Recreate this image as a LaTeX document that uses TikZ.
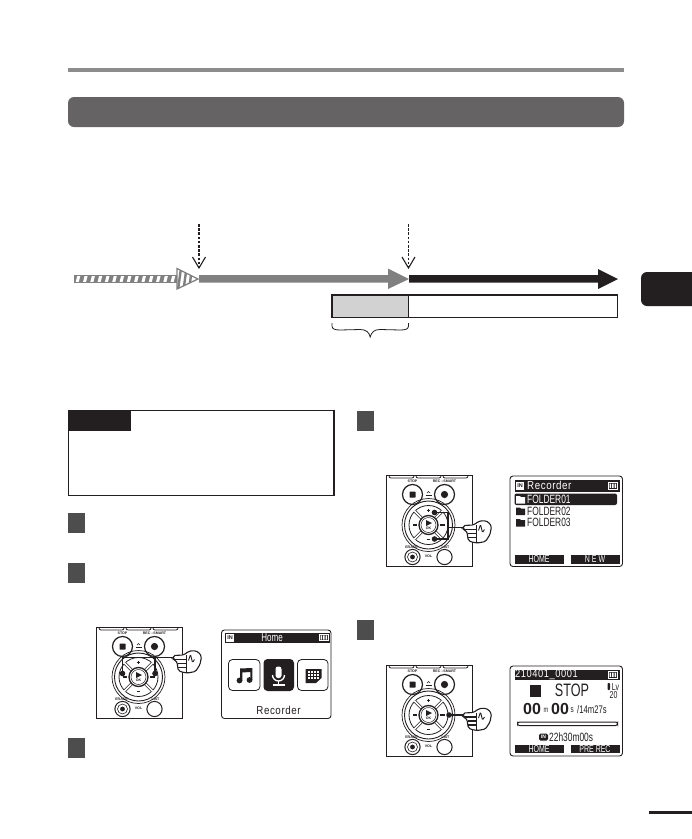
\documentclass[tikz,border=0pt]{standalone}
\usepackage{fontspec}
\setmainfont{Liberation Sans}
\newfontfamily\lcdfont[FakeStretch=0.7]{Liberation Sans}
\newfontfamily\lcdwide[FakeStretch=0.85,LetterSpace=5]{Liberation Sans}
\definecolor{inkblack}{HTML}{231F20}
\definecolor{headgray}{HTML}{656363}
\definecolor{rulegray}{HTML}{8C8C8C}
\definecolor{stepgray}{HTML}{4D4D4D}
\definecolor{flowgray}{HTML}{808080}
\definecolor{lightgray}{HTML}{D2D2D2}
\newcommand{\battery}[2]{
    \draw[white, line width = 0.8pt] (#1,#2) rectangle ++(9,6.4);
    \fill[white] (#1+1.5,#2+1) rectangle ++(1.5,4.4) (#1+4,#2+1) rectangle ++(1.5,4.4) (#1+6.5,#2+1) rectangle ++(1.5,4.4);
}
\newcommand{\folder}[3]{
    \fill[#3] (#1,#2) -- ++(4,0) -- ++(1,1) -- ++(4,0) -- ++(0,6.5) -- ++(-9,0) -- cycle;
}
\tikzset{
    lcd/.style = {draw = inkblack, line width = 0.9pt, rounded corners = 3pt, fill = white},
    lcdbar/.style = {fill = inkblack},
    lcdtext/.style = {text = inkblack, inner sep = 0pt, font = \fontsize{#1}{#1}\selectfont\lcdfont},
    lcdinv/.style = {lcdtext = #1, text = white},
    widetext/.style = {text = inkblack, inner sep = 0pt, font = \fontsize{#1}{#1}\selectfont\lcdwide},
    wideinv/.style = {widetext = #1, text = white},
    bigdigits/.style = {text = inkblack, inner sep = 0pt, anchor = west, font = \fontsize{16}{16}\selectfont\bfseries},
    inbadge/.style = {fill = white, text = inkblack, inner sep = 0pt, minimum width = 8pt, minimum height = 8pt, font = \fontsize{5.5}{5.5}\selectfont\bfseries},
    stepbox/.style = {fill = stepgray},
    wire/.style = {inkblack, line width = 1.3pt},
    dashpointer/.style = {inkblack, line width = 1.2pt, dash pattern = on 2.6pt off 1.6pt},
    pointertip/.style = {inkblack, line width = 1.1pt},
    devlabel/.style = {inner sep = 0pt, text = inkblack, font = \fontsize{3.6}{4}\selectfont\bfseries},
    pics/recorder/.style = {code = {
        \draw[inkblack, line width = 0.9pt, fill = white] (-42,-50) rectangle (44,41);
        \foreach \tabx in {-27,0,27}
            \draw[inkblack, line width = 0.8pt, rounded corners = 2pt] (\tabx-12.5,-50) -- (\tabx-12.5,-47) -- (\tabx+12.5,-47) -- (\tabx+12.5,-50);
        % top and bottom keys
        \draw[inkblack, line width = 1.2pt] (-16,-30.5) circle (10);
        \draw[inkblack, line width = 1.2pt] (16,-30.5) circle (10);
        \fill[inkblack, rounded corners = 0.5pt] (-19,-33.5) rectangle (-13,-27.5);
        \fill[inkblack] (16,-30.5) circle (3.6);
        \draw[inkblack, line width = 1pt] (-16,32) circle (7.6);
        \draw[inkblack, line width = 0.6pt] (-16,32) circle (5);
        \fill[inkblack] (-16,32) circle (2.4);
        \draw[inkblack, line width = 1pt] (16,32) circle (7.6);
        \draw[inkblack, line width = 0.6pt] (-1.5,-32) arc[start angle = 180, end angle = 360, radius = 1.5];
        \draw[inkblack, line width = 0.6pt] (-3,-29.5) -- (3,-29.5);
        \node[devlabel] at (-16,-43.5) {STOP};
        \node[devlabel] at (16,-43.5) {REC --SMART};
        \node[devlabel] at (-17,22.5) {ERASE};
        \node[devlabel] at (17,22.5) {LIST};
        \node[devlabel] at (0,31) {VOL};
        % direction keys
        \draw[inkblack, line width = 0.7pt] (0,0) circle (26.5);
        \draw[inkblack, line width = 0.9pt] (0,0) circle (24);
        \draw[inkblack, line width = 0.8pt] (0,0) circle (19.5);
        \foreach \ang in {45,135,225,315} {
            \draw[white, line width = 2.4pt] (\ang:9) -- (\ang:20);
            \draw[inkblack, line width = 0.6pt] ([shift = {(\ang+90:1.2)}]\ang:9) -- ([shift = {(\ang+90:1.2)}]\ang:19.5);
            \draw[inkblack, line width = 0.6pt] ([shift = {(\ang-90:1.2)}]\ang:9) -- ([shift = {(\ang-90:1.2)}]\ang:19.5);
        }
        \draw[inkblack, line width = 1.3pt, fill = white] (0,0) circle (9.5);
        \draw[inkblack, line width = 0.5pt] (0,0) circle (7.5);
        \fill[inkblack] (-2.5,-5) -- (3.5,-2) -- (-2.5,1) -- cycle;
        \node[devlabel] at (0,3.6) {OK};
        \draw[inkblack, line width = 0.8pt] (-1.8,-14.5) -- (1.8,-14.5) (0,-16.3) -- (0,-12.7);
        \draw[inkblack, line width = 0.8pt] (-1.8,14.5) -- (1.8,14.5);
        \fill[inkblack] (-16,-1.3) rectangle (-11.5,1.3);
        \fill[inkblack] (11.5,-1.3) rectangle (16,1.3);
    }},
    pics/hand/.style = {code = {
        \draw[inkblack, line width = 1.1pt, fill = white, rounded corners = 1.5pt]
            (0,-2) -- (10,-2.5) -- (15,-6) -- (20,-7) -- (25,-5.5) -- (28,-1) -- (26.5,7) -- (22,14) -- (14,15.5)
            -- (8,14.5) -- (5,13) -- (4,9.5) -- (4,5.5) -- (2,3) -- (0,2) -- cycle;
        \draw[inkblack, line width = 1.1pt] (0,2) -- (13,2) (4,6) -- (13,6) (4,10) -- (13,10) (13,-2.5) -- (13,14.5);
        \draw[inkblack, line width = 0.9pt, rounded corners = 1pt] (15,3) -- (17,-3) -- (19,5) -- (21,2);
    }}
}
\begin{document}
\begin{tikzpicture}[x = 1pt, y = -1pt]
    \useasboundingbox (0,0) rectangle (692,839);

    % page furniture
    \fill[rulegray] (68,67.5) rectangle (624,71.5);
    \fill[headgray, rounded corners = 6pt] (68,97) rectangle (624,127);
    \fill[inkblack, rounded corners = 6pt] (641,272) -- (641,306) -- (700,306) -- (700,272) -- cycle;
    \fill[inkblack] (649,811) rectangle (692,814);

    % timeline
    \fill[flowgray] (74,275) rectangle (177,282.5);
    \begin{scope}
        \clip (75,276.5) rectangle (176,281);
        \foreach \stripe in {0,...,14}
            \draw[white, line width = 3pt] (79+\stripe*7.3,275) -- (77+\stripe*7.3,283);
    \end{scope}
    \begin{scope}
        \clip (177,268.5) -- (198,279) -- (177,289) -- cycle;
        \fill[white] (177,268.5) -- (198,279) -- (177,289) -- cycle;
        \foreach \stripe in {0,1,2}
            \draw[flowgray, line width = 2.4pt] (181+\stripe*5.5,268) -- (178+\stripe*5.5,290);
    \end{scope}
    \draw[flowgray, line width = 1.3pt] (177,268.5) -- (198,279) -- (177,289) -- cycle;
    \fill[flowgray] (199,275) -- (388,275) -- (388,268.5) -- (409,279) -- (388,289) -- (388,282.5) -- (199,282.5) -- cycle;
    \fill[inkblack] (409,275) -- (598,275) -- (598,269) -- (618,279) -- (598,289) -- (598,282.5) -- (409,282.5) -- cycle;

    \coordinate (marka top) at (199,224);
    \coordinate (marka) at (199,268);
    \coordinate (markb top) at (408.5,224);
    \coordinate (markb) at (408.5,268);
    \draw[dashpointer] (marka top) -- (marka);
    \draw[dashpointer] (markb top) -- (markb);
    \draw[pointertip] (192.5,257) -- (199,268) -- (205.5,257);
    \draw[pointertip] (402,257) -- (408.5,268) -- (415,257);

    \draw[inkblack, line width = 1.7pt, fill = white] (332,295) rectangle (617.5,317.5);
    \draw[inkblack, line width = 1.7pt, fill = lightgray] (332,295) rectangle (408.5,317.5);
    \draw[inkblack, line width = 0.8pt] (332,323) -- (332,326) .. controls (332,329) and (335,330) .. (340,330)
        -- (360,329.5) .. controls (366,329.5) and (369,332) .. (370.2,337)
        .. controls (371.5,332) and (374.5,329.5) .. (380,329.5)
        -- (400.5,330) .. controls (405.5,330) and (408.5,329) .. (408.5,326) -- (408.5,323);

    % notes and steps
    \draw[inkblack, line width = 1.1pt] (68.5,410.5) rectangle (334,495.5);
    \fill[inkblack] (68,410) rectangle (131,431);
    \fill[stepbox] (68,513) rectangle (85,533);
    \fill[stepbox] (68,563) rectangle (85,583);
    \fill[stepbox] (68,738) rectangle (85,758);
    \fill[stepbox] (357,411) rectangle (374,431);
    \fill[stepbox] (357,620) rectangle (374,640);

    % recorder with home key pair
    \pic at (138.5,677) {recorder};
    \coordinate (lefta) at (122.5,673.5);
    \coordinate (righta) at (155,673.5);
    \coordinate (handa) at (173.5,657.5);
    \fill[inkblack] (lefta) circle (2.8) (righta) circle (2.8);
    \draw[wire] (lefta) |- (handa) (righta) |- (handa);
    \pic at (handa) {hand};

    % recorder with up and down
    \pic at (428.5,525) {recorder};
    \coordinate (upb) at (434.5,512.5);
    \coordinate (downb) at (434.5,539);
    \coordinate (handb) at (463.5,527.5);
    \coordinate (jointb) at (448,527.5);
    \fill[inkblack] (upb) circle (2.8) (downb) circle (2.8);
    \draw[wire] (upb) -| (jointb) |- (downb) (jointb) -- (handb);
    \pic at (handb) {hand};

    % recorder with right key
    \pic at (428.5,715) {recorder};
    \coordinate (rightc) at (449,715);
    \coordinate (handc) at (463.5,715);
    \fill[inkblack] (rightc) circle (2.8);
    \draw[wire] (rightc) -- (handc);
    \pic at (handc) {hand};

    % home screen
    \draw[lcd] (221.5,630) rectangle (331,718.5);
    \fill[lcdbar] (225,632.5) rectangle (330,642.5);
    \node[inbadge] (homein) at (230,637.5) {IN};
    \node[lcdinv = 11.5] (hometitle) at (272,637.5) {Home};
    \battery{319}{634.3}
    \draw[inkblack, line width = 0.8pt, rounded corners = 4pt] (228.5,659.5) rectangle (260,690.5);
    \fill[inkblack, rounded corners = 4pt] (263.5,659) rectangle (294,691);
    \draw[inkblack, line width = 0.8pt, rounded corners = 4pt] (297.5,659.5) rectangle (328,690.5);
    % music, microphone, calendar
    \fill[inkblack] (239.5,680.5) circle (2.9) (249.5,680) circle (2.9);
    \fill[inkblack] (240,668.5) -- (252.3,668) -- (252.3,680) -- (250.3,680) -- (250.3,672) -- (242.3,672.5) -- (242.3,680.5) -- (240,680.5) -- cycle;
    \fill[white, rounded corners = 2.5pt] (275.5,666.5) rectangle (281.5,678);
    \draw[white, line width = 1.3pt] (272.5,675) arc[start angle = 180, end angle = 0, radius = 6];
    \draw[white, line width = 1.5pt] (278.5,681) -- (278.5,684.5) (272.5,685) -- (284.5,685);
    \fill[inkblack] (305.5,669) -- (321.5,669) -- (321.5,678) -- (316,683) -- (305.5,683) -- cycle;
    \foreach \gridx in {309,312,315,318}
        \foreach \gridy in {672,675,678}
            \fill[white] (\gridx-1,\gridy-1) rectangle (\gridx+0.5,\gridy+0.5);
    \node[widetext = 11.5] (homelabel) at (278.5,710.5) {Recorder};

    % folder screen
    \draw[lcd] (510,476) rectangle (622.5,566.5);
    \fill[lcdbar] (514.5,480) rectangle (619.5,491.5);
    \node[inbadge] (folderin) at (520,486) {IN};
    \node[wideinv = 11.5, anchor = west] (foldertitle) at (527,485.7) {Recorder};
    \battery{608}{482.5}
    \fill[lcdbar, rounded corners = 2pt] (514.5,493.5) rectangle (617,505);
    \folder{516}{496}{white}
    \node[lcdinv = 12, anchor = west] (folderone) at (527,499.3) {FOLDER01};
    \folder{516}{507.5}{inkblack}
    \node[lcdtext = 12, anchor = west] (foldertwo) at (527,511) {FOLDER02};
    \folder{516}{519}{inkblack}
    \node[lcdtext = 12, anchor = west] (folderthree) at (527,522.5) {FOLDER03};
    \fill[lcdbar] (514.5,554.5) rectangle (563.5,563.5);
    \fill[lcdbar] (571,554.5) rectangle (619.5,563.5);
    \node[lcdinv = 10] (folderhome) at (539,559.5) {HOME};
    \node[lcdinv = 10] (foldernew) at (595,559.5) {N E W};

    % stop screen
    \draw[lcd] (510,666) rectangle (622.5,756);
    \fill[lcdbar] (514.5,669.5) rectangle (619.5,680);
    \node[wideinv = 11, anchor = west] (stoptitle) at (515,675) {210401\_0001};
    \battery{608}{671.5}
    \fill[inkblack] (530,685) rectangle (541,697);
    \node[lcdtext = 18] (stoplabel) at (572,690) {STOP};
    \fill[inkblack, rounded corners = 0.8pt] (607.5,683) rectangle (610,690);
    \node[lcdtext = 10] (stoplv) at (615.5,687) {Lv};
    \node[lcdtext = 10] (stoplevel) at (613.5,695.5) {20};
    \node[bigdigits] (stopmin) at (523,708.5) {00};
    \node[lcdtext = 8, anchor = west] (stopm) at (543.5,710) {m};
    \node[bigdigits] (stopsec) at (551,708.5) {00};
    \node[lcdtext = 9, anchor = west] (stops) at (570.5,710) {s};
    \node[lcdtext = 11, anchor = west] (stopleft) at (577,709.5) {/14m27s};
    \draw[inkblack, line width = 1pt, rounded corners = 2pt] (517.5,722) rectangle (617.5,725.5);
    \fill[inkblack, rounded corners = 1.5pt] (539,733.5) rectangle (548,740.5);
    \node[inner sep = 0pt, text = white, font = \fontsize{5}{5}\selectfont\bfseries] (stopin) at (543.5,737) {IN};
    \node[lcdtext = 12, anchor = west] (stopremain) at (549,737.3) {22h30m00s};
    \fill[lcdbar] (514.5,744.5) rectangle (563.5,752.5);
    \fill[lcdbar] (571,744.5) rectangle (619.5,752.5);
    \node[lcdinv = 10] (stophome) at (539,749) {HOME};
    \node[lcdinv = 10] (stoprec) at (595,749) {PRE REC};
\end{tikzpicture}
\end{document}
